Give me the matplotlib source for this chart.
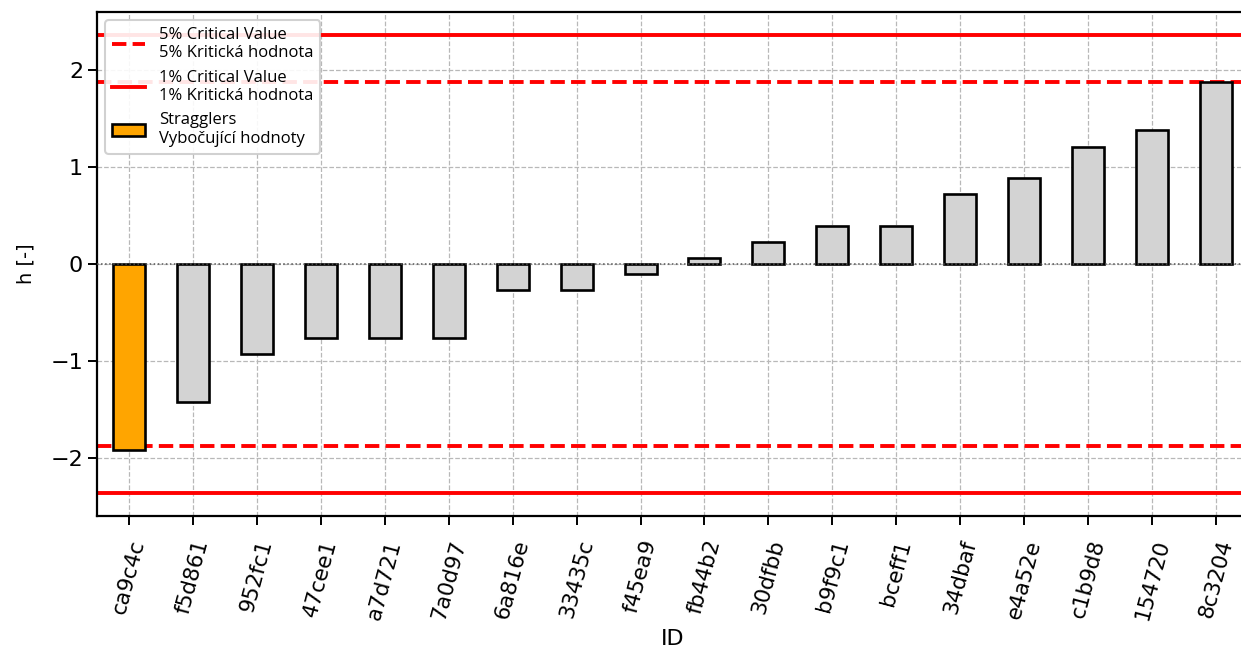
import matplotlib
matplotlib.use("Agg")
import matplotlib.pyplot as plt
from matplotlib.lines import Line2D
from matplotlib.patches import Patch

ids = ["ca9c4c", "f5d861", "952fc1", "47cee1", "a7d721", "7a0d97", "6a816e",
       "33435c", "f45ea9", "fb44b2", "30dfbb", "b9f9c1", "bceff1", "34dbaf",
       "e4a52e", "c1b9d8", "154720", "8c3204"]
h_values = [-1.915, -1.425, -0.931, -0.763, -0.763, -0.763, -0.27, -0.27,
            -0.105, 0.065, 0.23, 0.39, 0.39, 0.725, 0.887, 1.212, 1.384, 1.875]
crit_5 = 1.879
crit_1 = 2.363
stragglers = ["ca9c4c"]

W, H = 1241, 656
dpi = 100
fig = plt.figure(figsize=(W / dpi, H / dpi), dpi=dpi)
left, right = 97, 1248
top, bottom = 12, 516
ax = fig.add_axes([left / W, (H - bottom) / H, (right - left) / W, (bottom - top) / H])

x = list(range(len(ids)))
colors = ["orange" if i in stragglers else "lightgray" for i in ids]
ax.bar(x, h_values, width=0.5, color=colors, edgecolor="black", linewidth=1.9, zorder=3)

ax.axhline(0, color="#555555", linestyle=":", linewidth=1.1, zorder=4)
for s in (1, -1):
    ax.axhline(s * crit_5, color="red", linestyle="--", linewidth=2.8, zorder=2)
    ax.axhline(s * crit_1, color="red", linestyle="-", linewidth=2.8, zorder=2)

ax.set_xlim(-0.5, len(ids) - 0.5)
ax.set_ylim(-2.6, 2.6)
ax.set_yticks([-2, -1, 0, 1, 2])
ax.set_xticks(x)
ax.set_xticklabels(ids, rotation=75, fontsize=15.5)
ax.tick_params(axis="y", labelsize=16, length=6.5, width=1.4)
ax.tick_params(axis="x", length=6.5, width=1.4, pad=9)
ax.grid(True, linestyle="--", color="#b8b8b8", linewidth=0.9, zorder=0)
ax.set_axisbelow(True)
for sp in ax.spines.values():
    sp.set_linewidth(1.6)

ax.set_ylabel("h [-]", fontsize=14, labelpad=11)
ax.set_xlabel("ID", fontsize=16, labelpad=5)

handles = [
    Line2D([0], [0], color="red", linestyle="--", linewidth=2.8),
    Line2D([0], [0], color="red", linestyle="-", linewidth=2.8),
    Patch(facecolor="orange", edgecolor="black", linewidth=1.9),
]
labels = ["5% Critical Value\n5% Kritická hodnota",
          "1% Critical Value\n1% Kritická hodnota",
          "Stragglers\nVybočující hodnoty"]
leg = ax.legend(handles, labels, loc="upper left",
                prop={"family": "Open Sans", "size": 12},
                handlelength=2.0, framealpha=0.9, edgecolor="#cccccc")
leg.get_frame().set_linewidth(1.5)

fig.savefig("out.png", dpi=dpi)
